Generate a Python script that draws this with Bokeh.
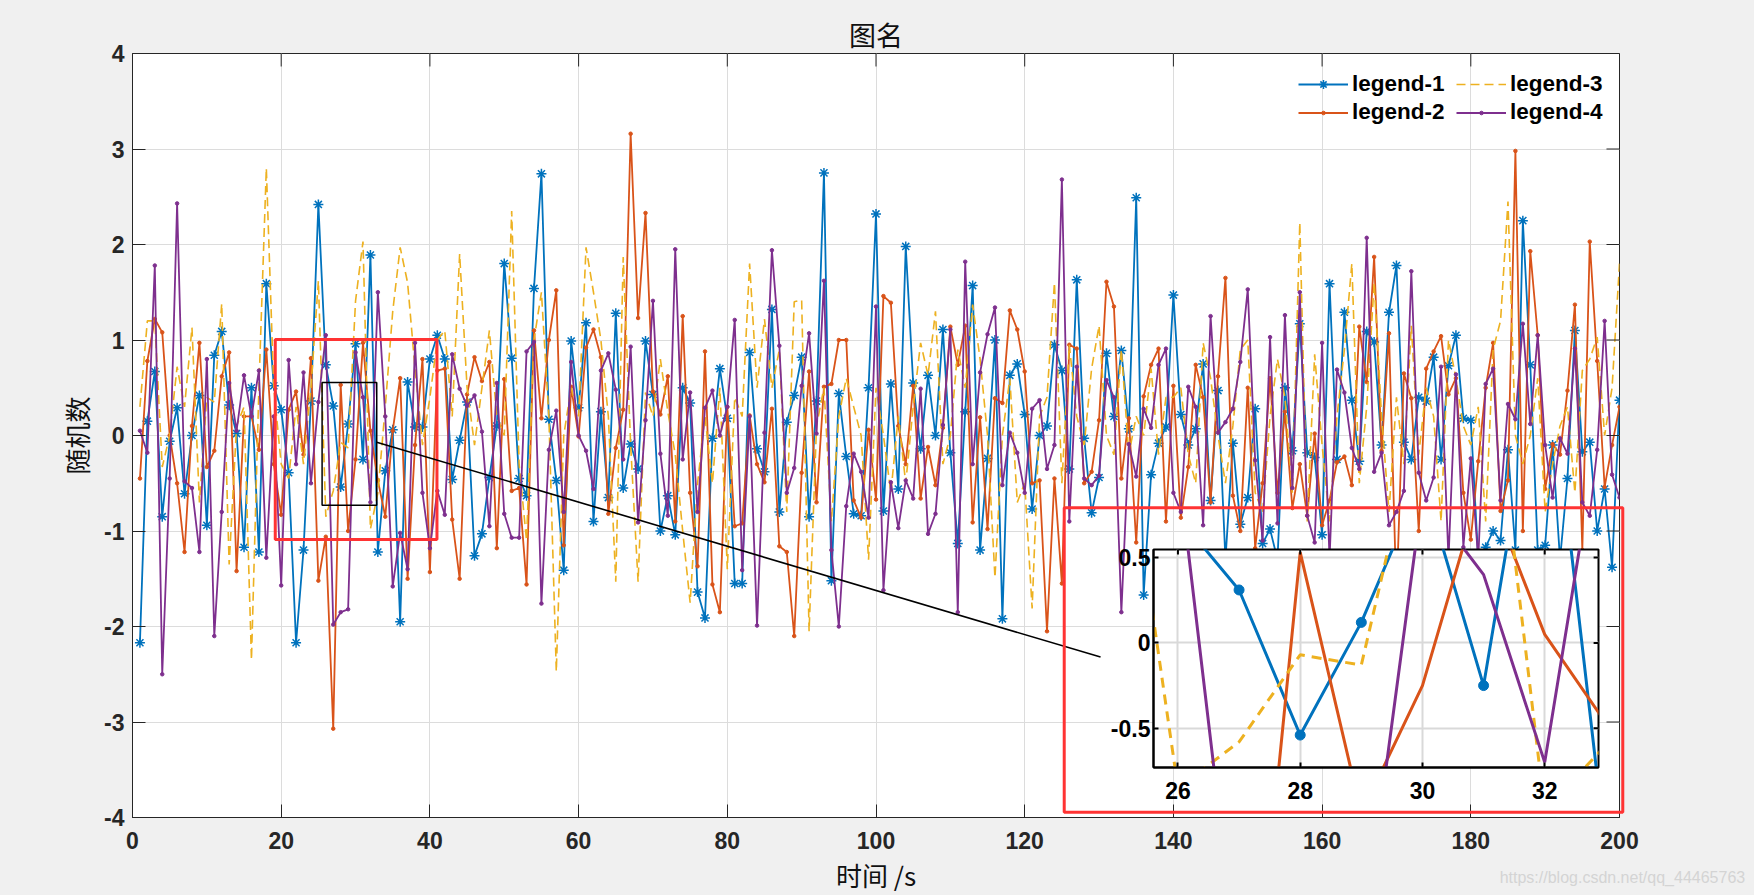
from bokeh.core.properties import value
from bokeh.plotting import figure
from bokeh.models import (BoxAnnotation, Column, FixedTicker, Legend, LegendItem,
                          Range1d, Title)
from bokeh.embed import file_html
from bokeh.resources import INLINE

time_s = list(range(1, 201))

legend_1 = [
    -2.17,0.15,0.67,-0.85,-0.06,0.29,-0.61,0.0,0.42,-0.94,
    0.84,1.09,0.32,0.02,-1.17,0.5,-1.22,1.59,0.52,0.27,
    -0.39,-2.17,-1.2,0.36,2.42,0.74,0.31,-0.54,0.12,0.96,
    -0.25,1.89,-1.22,-0.37,0.06,-1.95,0.56,0.09,0.09,0.8,
    1.05,0.8,-0.46,-0.05,0.35,-1.26,-1.03,-0.44,0.1,1.8,
    0.81,-0.45,-0.63,1.54,2.74,0.17,-0.47,-1.41,0.99,0.29,
    1.18,-0.9,0.25,-0.65,1.28,-0.55,-0.09,-0.35,0.99,0.43,
    -1.0,-0.63,-1.04,0.5,0.34,-1.64,-1.91,-0.03,0.7,0.18,
    -1.55,-1.55,0.87,-0.14,-0.38,1.32,-0.8,0.14,0.42,0.82,
    -0.85,0.36,2.75,-1.52,0.44,-0.22,-0.82,-0.84,0.5,2.32,
    -0.79,0.54,-0.56,1.98,0.55,-0.14,0.63,0.0,1.11,-0.18,
    -1.13,0.25,1.57,-1.2,-0.24,1.0,-1.92,0.63,0.75,0.22,
    -0.77,0.0,0.1,0.95,0.68,-0.35,1.63,-0.03,-0.81,-0.44,
    0.86,0.2,0.89,0.07,2.49,-1.67,-0.41,-0.08,0.09,1.47,
    0.22,-0.1,0.07,0.75,-0.68,0.47,-1.3,-0.08,-0.93,-0.65,
    0.28,-1.13,-0.98,-1.3,0.5,-0.16,1.17,-0.18,-0.23,-1.04,
    1.59,-0.25,1.29,0.37,-0.27,1.09,0.98,-0.1,1.29,1.78,
    -0.07,-0.25,0.4,0.36,0.82,-0.25,0.73,1.05,0.18,0.16,
    -1.3,-1.17,-1.0,-1.1,-0.15,-1.2,2.25,0.74,-1.2,-1.15,
    -0.1,-1.3,-0.45,1.1,-0.17,-0.07,-1.0,-0.56,-1.38,0.37,
]
legend_2 = [
    -0.45,0.78,1.22,1.08,0.0,-0.5,-1.22,0.1,0.97,-0.33,
    -0.16,0.62,0.87,-1.42,0.2,0.2,-0.15,0.9,-0.3,-0.83,
    0.27,0.46,-0.2,0.81,-1.52,-1.06,-3.07,0.53,-1.0,-0.25,
    0.97,0.05,-0.47,-0.85,0.05,0.6,-1.5,-0.1,0.8,-1.43,
    0.68,0.7,-0.88,-1.5,0.43,0.82,0.57,0.77,-1.18,0.59,
    -0.58,-0.55,-1.56,1.1,0.18,1.0,1.52,-1.15,0.51,-0.01,
    0.92,1.11,0.82,-0.82,-0.13,0.27,3.16,1.23,2.33,0.46,
    0.22,0.62,-0.9,1.25,-0.6,-1.37,0.88,-1.56,-1.85,0.3,
    -0.95,-0.92,0.21,-0.3,-0.49,0.28,-1.16,-1.22,-2.1,-0.39,
    0.67,-0.7,0.51,0.54,1.0,1.0,-0.68,-0.86,0.06,-0.67,
    1.46,1.39,0.1,-0.3,0.52,-0.66,-0.12,-0.52,0.08,1.14,
    0.74,1.15,-0.91,0.19,-0.98,0.39,0.34,1.31,1.11,0.67,
    -0.5,-0.47,-2.05,-0.45,-1.55,0.95,0.91,-0.5,-0.38,0.16,
    1.61,1.35,-0.45,0.18,-1.12,0.41,0.74,0.91,-0.9,0.52,
    -0.86,-0.33,0.74,0.4,-0.7,0.62,1.65,-0.63,-1.0,0.5,
    -1.18,-0.5,0.6,-0.6,0.25,-0.76,-0.3,-0.84,0.02,-0.94,
    -0.68,-0.28,-0.22,-0.52,1.14,0.56,1.87,-0.16,1.07,-1.7,
    0.65,0.39,-1.0,0.7,0.88,1.04,0.43,0.6,-0.6,-1.09,
    -0.27,0.5,0.97,-0.79,-0.47,2.98,-1.0,1.93,1.05,-0.56,
    -0.09,-0.2,0.47,1.37,-1.2,2.03,0.78,-0.54,-0.1,0.3,
]
legend_3 = [
    0.3,1.2,1.2,-0.33,0.0,0.72,0.3,1.13,-0.7,0.4,
    0.35,1.38,-1.35,0.1,0.3,-2.35,0.5,2.8,0.5,-0.3,
    -0.45,0.3,-0.3,0.5,1.62,-0.85,-0.58,-0.07,-0.13,1.41,
    2.03,-0.98,-0.6,0.3,1.3,1.97,1.6,0.7,-0.1,0.4,
    1.0,1.1,0.2,1.9,0.5,-0.1,0.5,1.1,0.2,0.0,
    2.35,-0.3,-1.1,1.0,1.5,0.2,-2.47,0.0,0.5,0.2,
    1.97,1.5,1.0,0.2,-1.53,1.87,-0.1,-1.53,0.45,0.2,
    0.8,0.25,-0.2,-1.0,-1.75,-0.5,0.2,-0.5,0.5,-1.4,
    0.4,0.2,1.8,0.5,1.22,0.5,0.9,-0.8,1.4,1.42,
    -2.05,0.1,0.5,-0.9,0.2,0.6,0.3,0.0,-1.3,0.5,
    0.0,-0.6,0.2,-0.5,0.3,0.97,0.63,1.3,-0.3,0.0,
    0.9,0.5,1.37,0.8,0.0,-1.49,0.0,0.6,-0.7,-0.5,
    -1.81,0.2,0.4,1.6,-0.5,0.95,0.2,-0.1,0.7,1.15,
    0.0,-0.2,0.9,-0.2,0.2,0.0,0.7,-0.2,0.4,0.4,
    0.5,-0.2,-0.5,0.97,0.6,0.0,-0.5,0.1,0.9,1.0,
    -0.6,-0.8,0.2,0.8,0.4,-0.6,2.23,-0.9,0.85,-0.1,
    -0.9,0.2,0.9,1.8,-0.5,0.3,1.6,0.2,-0.8,0.4,
    -0.3,1.15,-0.2,0.5,0.2,-0.9,1.0,0.6,0.1,-0.1,
    0.3,-0.9,0.9,1.2,2.45,0.0,-0.3,0.0,0.6,-0.8,
    -0.3,0.1,0.3,-0.6,0.68,0.8,1.03,0.0,0.5,1.8,
]
legend_4 = [
    0.05,-0.18,1.78,-2.5,-0.45,2.43,-0.48,-0.55,-1.22,0.8,
    -2.1,-0.8,0.55,0.05,0.63,0.2,0.68,-1.28,0.2,-1.57,
    0.79,-0.3,0.66,-0.5,0.35,1.05,-1.98,-1.85,-1.82,0.87,
    0.4,-0.7,1.5,0.2,-1.58,-1.02,-1.4,0.97,-0.6,-1.18,
    -0.58,-0.83,0.85,0.49,0.31,0.42,0.04,-0.95,0.55,-0.82,
    -1.07,-1.07,0.88,0.98,-1.76,-0.15,0.26,-0.8,0.77,0.0,
    -0.16,-0.56,0.68,0.86,0.48,-0.25,0.93,-0.91,0.16,1.41,
    -0.19,-0.84,1.95,-0.25,0.45,-0.8,0.29,0.47,0.0,0.3,
    1.21,-1.41,0.2,-1.99,0.03,1.94,0.94,-0.6,-0.34,0.52,
    1.07,0.02,1.62,-1.2,-2.0,-0.74,-0.19,-0.38,-0.86,1.35,
    -1.62,-0.49,-0.97,-0.47,-0.66,0.49,-1.03,-0.82,0.11,1.11,
    -1.85,1.82,-0.3,0.66,1.06,1.34,-0.52,0.03,-0.18,-0.6,
    0.28,0.37,-0.35,-0.1,2.68,-0.9,0.72,-0.45,-0.52,-0.42,
    0.58,0.4,-1.85,-0.09,-0.43,0.28,0.08,0.74,0.91,-0.6,
    -0.8,0.51,0.3,-0.94,1.25,0.03,0.14,0.28,0.77,1.53,
    -0.26,-1.1,1.03,-0.92,1.26,-0.55,1.5,-0.84,-1.12,0.97,
    -1.3,0.69,0.45,-0.13,-0.35,2.07,-0.38,-0.18,-0.94,-0.8,
    -0.58,1.72,-0.39,-0.68,-0.44,0.72,-1.3,0.64,-1.17,-0.24,
    -1.3,0.54,0.7,-0.68,0.33,0.17,1.17,0.12,1.05,-0.1,
    -0.65,-0.03,-0.19,0.91,-0.7,-0.84,-0.15,1.2,-0.41,-0.65,
]

x_ticks = [0, 20, 40, 60, 80, 100, 120, 140, 160, 180, 200]
y_ticks = [-4, -3, -2, -1, 0, 1, 2, 3, 4]
y_tick_text = {-4: "-4", -3: "-3", -2: "-2", -1: "-1"}
inset_x_ticks = [26, 28, 30, 32]
inset_y_ticks = [-0.5, 0, 0.5]
inset_y_tick_text = {-0.5: "-0.5", 0: "0", 0.5: "0.5"}
leader_x = [32.85, 130.2]
leader_y = [-0.07, -2.32]
watermark = "https://blog.csdn.net/qq_44465763"

C1, C2, C3, C4 = "#0072BD", "#D95319", "#EDB120", "#7E2F8E"
RED = "#FF3333"
BG = "#F0F0F0"
INK = "#262626"
SANS = "Liberation Sans"
CJK = "Noto Sans CJK SC"

p = figure(frame_width=1487, frame_height=764, x_range=Range1d(0, 200), y_range=Range1d(-4, 4),
           output_backend="svg", toolbar_location=None,
           min_border_left=132, min_border_right=135, min_border_top=53, min_border_bottom=78,
           border_fill_color=BG, background_fill_color="white",
           outline_line_color=INK, outline_line_width=1)
p.frame_align = False
p.title = Title(text="图名", text_font=CJK, text_font_size="27px", text_font_style="normal",
                text_color="#111111", align="center", standoff=0)

for ax, ticks in ((p.xaxis[0], x_ticks), (p.yaxis[0], y_ticks)):
    ax.ticker = FixedTicker(ticks=ticks)
    ax.major_tick_in = 13
    ax.major_tick_out = 0
    ax.minor_tick_line_color = None
    ax.axis_line_color = INK
    ax.major_tick_line_color = INK
    ax.major_label_text_font = SANS
    ax.major_label_text_font_style = "bold"
    ax.major_label_text_font_size = "23px"
    ax.major_label_text_color = INK
    ax.axis_label_text_font = CJK
    ax.axis_label_text_font_style = "normal"
    ax.axis_label_text_font_size = "26px"
    ax.axis_label_text_color = "#111111"
p.xaxis[0].axis_label = "时间 /s"
p.yaxis[0].axis_label = "随机数"
p.yaxis[0].major_label_overrides = y_tick_text
p.xaxis[0].major_label_standoff = 14
p.yaxis[0].major_label_standoff = 8
p.xaxis[0].axis_label_standoff = 4
p.yaxis[0].axis_label_standoff = 6

p.grid.grid_line_color = "#DCDCDC"
p.grid.grid_line_width = 1
p.xgrid[0].ticker = FixedTicker(ticks=x_ticks)
p.ygrid[0].ticker = FixedTicker(ticks=y_ticks)

l1 = p.line(time_s, legend_1, line_color=C1, line_width=1.8)
m1 = p.scatter(time_s, legend_1, marker="asterisk", size=10, line_color=C1, line_width=1.5)
l2 = p.line(time_s, legend_2, line_color=C2, line_width=1.8)
m2 = p.scatter(time_s, legend_2, marker="circle", size=3.5, fill_color=C2, line_color=C2)
l3 = p.line(time_s, legend_3, line_color=C3, line_width=1.6, line_dash="9 5")
l4 = p.line(time_s, legend_4, line_color=C4, line_width=1.8)
m4 = p.scatter(time_s, legend_4, marker="circle", size=3.5, fill_color=C4, line_color=C4)

# tick marks on the top and right sides of the box, as in a boxed MATLAB axes
p.segment(x_ticks, [4] * len(x_ticks), x_ticks, [3.864] * len(x_ticks), line_color=INK, line_width=1)
p.segment([200] * len(y_ticks), y_ticks, [198.25] * len(y_ticks), y_ticks, line_color=INK, line_width=1)

p.line(leader_x, leader_y, line_color="black", line_width=1.6, level="overlay")

p.add_layout(BoxAnnotation(left=25.5, right=32.85, bottom=-0.73, top=0.555, fill_alpha=0,
                           line_color="black", line_alpha=1, line_width=1.5))
p.add_layout(BoxAnnotation(left=19.2, right=40.95, bottom=-1.09, top=1.005, fill_alpha=0,
                           line_color=RED, line_alpha=1, line_width=3))


def one_row(label, renderers, x, y, glyph_h):
    return Legend(items=[LegendItem(label=label, renderers=renderers)],
                  location=(x, y), background_fill_alpha=0, border_line_color=None,
                  label_text_font=SANS, label_text_font_style="bold", label_text_font_size="22.5px",
                  label_text_color="black", glyph_width=50, glyph_height=glyph_h, label_height=22,
                  label_standoff=4, spacing=0, padding=0, margin=0)


p.add_layout(one_row("legend-1", [l1, m1], 1166, 720, 22))
p.add_layout(one_row("legend-2", [l2, m2], 1166, 692, 9))
p.add_layout(one_row("legend-3", [l3], 1324, 720, 22))
p.add_layout(one_row("legend-4", [l4, m4], 1324, 692, 9))

# the larger red frame runs past the axes box, so it gets a transparent layer of its own
red_layer = figure(frame_width=566, frame_height=310,
                   x_range=Range1d(124.8, 200.9), y_range=Range1d(-3.98, -0.733),
                   output_backend="svg", toolbar_location=None,
                   x_axis_location=None, y_axis_location=None,
                   min_border_left=0, min_border_right=0, min_border_top=0, min_border_bottom=0,
                   border_fill_color=None, background_fill_color=None, outline_line_color=None)
red_layer.frame_align = False
red_layer.grid.grid_line_color = None
red_layer.margin = (-390, 0, 0, 1060)
red_layer.add_layout(BoxAnnotation(left=125.3, right=200.4, bottom=-3.945, top=-0.757, fill_alpha=0,
                                   line_color=RED, line_alpha=1, line_width=3))

inset = figure(frame_width=445, frame_height=218,
               x_range=Range1d(25.6, 32.88), y_range=Range1d(-0.73, 0.547),
               output_backend="svg", toolbar_location=None,
               min_border_left=60, min_border_right=10, min_border_top=5, min_border_bottom=45,
               border_fill_color=None, background_fill_color="white",
               outline_line_color="black", outline_line_width=2)
inset.frame_align = False
inset.margin = (-271, 0, 0, 1093)

for ax, ticks in ((inset.xaxis[0], inset_x_ticks), (inset.yaxis[0], inset_y_ticks)):
    ax.ticker = FixedTicker(ticks=ticks)
    ax.major_tick_in = 5
    ax.major_tick_out = 0
    ax.minor_tick_line_color = None
    ax.axis_line_color = "black"
    ax.axis_line_width = 2
    ax.major_tick_line_color = "black"
    ax.major_tick_line_width = 2
    ax.major_label_text_font = SANS
    ax.major_label_text_font_style = "bold"
    ax.major_label_text_font_size = "23px"
    ax.major_label_text_color = "black"
inset.yaxis[0].major_label_overrides = inset_y_tick_text
inset.xaxis[0].major_label_standoff = 14
inset.yaxis[0].major_label_standoff = 3
inset.grid.grid_line_color = "#D9D9D9"
inset.grid.grid_line_width = 2
inset.xgrid[0].ticker = FixedTicker(ticks=inset_x_ticks)
inset.ygrid[0].ticker = FixedTicker(ticks=inset_y_ticks)

inset.line(time_s, legend_1, line_color=C1, line_width=3)
inset.scatter(time_s, legend_1, marker="circle", size=10, fill_color=C1, line_color=C1)
inset.line(time_s, legend_2, line_color=C2, line_width=3)
inset.line(time_s, legend_3, line_color=C3, line_width=3, line_dash="10 7")
inset.line(time_s, legend_4, line_color=C4, line_width=3)
inset.segment(inset_x_ticks, [0.547] * 4, inset_x_ticks, [0.518] * 4, line_color="black", line_width=2)
inset.segment([32.88] * 3, inset_y_ticks, [32.8] * 3, inset_y_ticks, line_color="black", line_width=2)

# the blog watermark in the bottom right corner of the picture
mark_layer = figure(frame_width=258, frame_height=26, x_range=Range1d(0, 1), y_range=Range1d(0, 1),
                    output_backend="svg", toolbar_location=None,
                    x_axis_location=None, y_axis_location=None,
                    min_border_left=0, min_border_right=0, min_border_top=0, min_border_bottom=0,
                    border_fill_color=None, background_fill_color=None, outline_line_color=None)
mark_layer.frame_align = False
mark_layer.grid.grid_line_color = None
mark_layer.margin = (52, 0, 0, 1494)
mark_layer.text([0.02], [0.5], text=[watermark], text_font=value(SANS), text_font_size="16px",
                text_color="#D4D4D4", text_baseline="middle")

root = Column(children=[p, red_layer, inset, mark_layer], spacing=0)
html = file_html(root, INLINE, title="chart")
html = html.replace("<head>", "<head><style>html,body{background:#F0F0F0;overflow:hidden}</style>", 1)
open("out.html", "w").write(html)
